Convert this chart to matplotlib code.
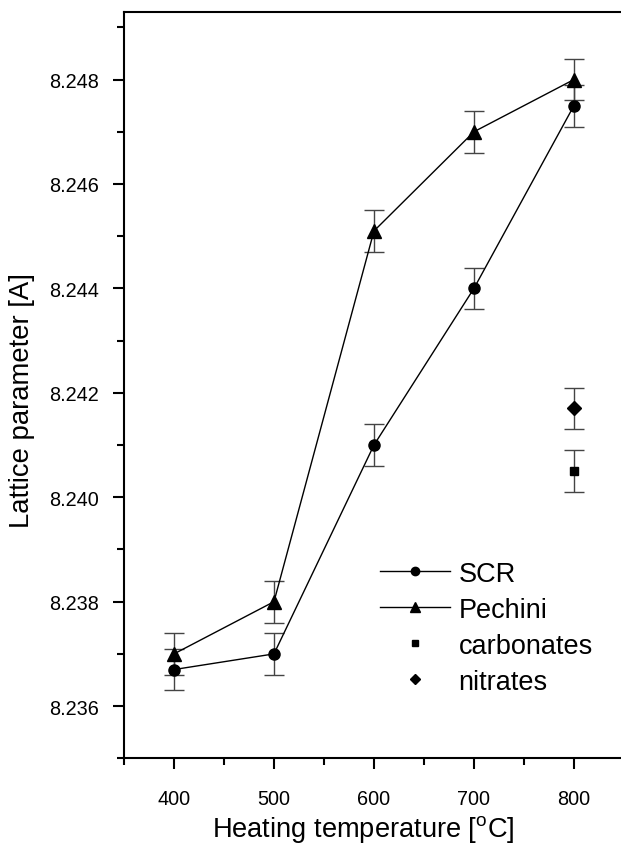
import numpy as np
import matplotlib.pyplot as plt
from matplotlib.ticker import MultipleLocator

plt.rcParams['font.family'] = ['Liberation Sans', 'DejaVu Sans']

temps = [400, 500, 600, 700, 800]
scr = [8.2367, 8.2370, 8.2410, 8.2440, 8.2475]
pechini = [8.2370, 8.2380, 8.2451, 8.2470, 8.2480]
scr_err = [0.0004, 0.0004, 0.0004, 0.0004, 0.0004]
pechini_err = [0.0004, 0.0004, 0.0004, 0.0004, 0.0004]
carb_t, carb_v, carb_e = [800], [8.2405], [0.0004]
nitr_t, nitr_v, nitr_e = [800], [8.2417], [0.0004]

fig = plt.figure(figsize=(6.21, 8.45), dpi=100)
ax = fig.add_axes([0.1997, 0.1014, 0.805, 0.8836])

ekw = dict(ecolor="#444444", elinewidth=1, capsize=7.5, capthick=1)
ax.errorbar(temps, scr, yerr=scr_err, color="k", lw=1, marker="o", ms=8, label="SCR", **ekw)
ax.errorbar(temps, pechini, yerr=pechini_err, color="k", lw=1, marker="^", ms=9.5, label="Pechini", **ekw)
ax.errorbar(carb_t, carb_v, yerr=carb_e, color="k", ls="none", marker="s", ms=6, label="carbonates", **ekw)
ax.errorbar(nitr_t, nitr_v, yerr=nitr_e, color="k", ls="none", marker="D", ms=7, label="nitrates", **ekw)

ax.set_xlim(350, 850)
ax.set_ylim(8.235, 8.2493)
ax.xaxis.set_major_locator(MultipleLocator(100))
ax.xaxis.set_minor_locator(MultipleLocator(50))
ax.yaxis.set_major_locator(MultipleLocator(0.002))
ax.yaxis.set_minor_locator(MultipleLocator(0.001))
ax.yaxis.set_major_formatter(plt.FormatStrFormatter('%.3f'))
ax.tick_params(which="both", direction="out", width=1.5, labelsize=14.3, top=False, right=False)
ax.tick_params(which="major", length=8)
ax.tick_params(which="minor", length=5)
ax.tick_params(axis="x", which="major", pad=14)
ax.tick_params(axis="y", which="major", pad=10)
for s in ax.spines.values():
    s.set_linewidth(1.5)
ax.spines["right"].set_visible(False)

ax.set_xlabel("Heating temperature [$^{\\mathregular{o}}$C]", fontsize=19.6)
ax.set_ylabel("Lattice parameter [A]", fontsize=19.8)
ax.xaxis.set_label_coords(0.478, -0.073)
ax.yaxis.set_label_coords(-0.178, 0.481)

handles, labels = ax.get_legend_handles_labels()
handles = [h[0] for h in handles]
ax.legend(handles, labels, loc="upper left", bbox_to_anchor=(0.512, 0.2646), frameon=False,
          fontsize=19.5, handlelength=2.6, markerscale=0.75, labelspacing=0.37,
          handletextpad=0.3, borderpad=0, borderaxespad=0)

fig.savefig("out.png", dpi=100)
